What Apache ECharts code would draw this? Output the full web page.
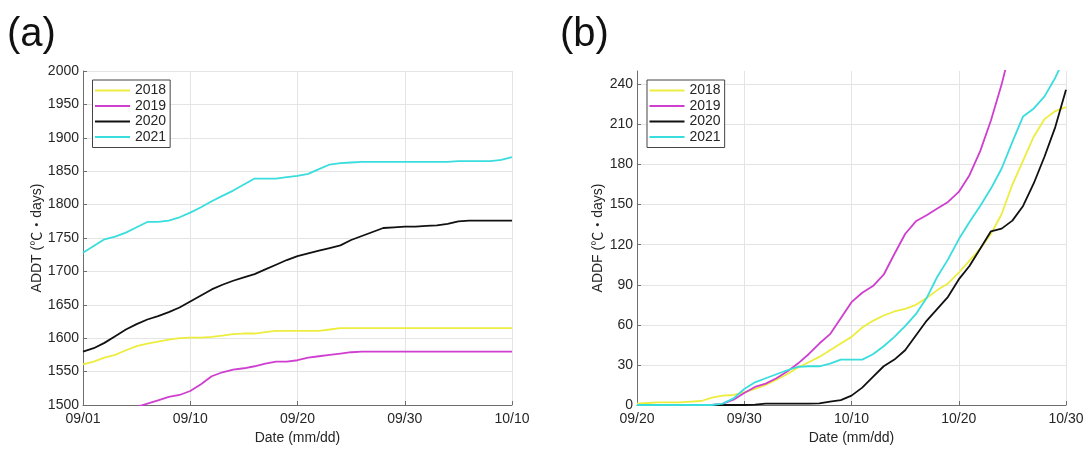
<!DOCTYPE html>
<html>
<head>
<meta charset="utf-8">
<script src="https://cdn.jsdelivr.net/npm/echarts@6/dist/echarts.min.js"></script>
<style>
  html, body { margin: 0; padding: 0; background: #fff; }
  #chart { width: 1089px; height: 450px; }
</style>
</head>
<body>
<div id="chart"></div>
<script>
// Season names shown in both legends
const years = ['2018', '2019', '2020', '2021'];
const colors = ['#eded3f', '#cf3fcf', '#111111', '#3adddd'];

// Panel (a): accumulated daily temperature, one value per day from 09/01
const ticksA = ['09/01', '09/10', '09/20', '09/30', '10/10'];
const addt2018 = [1561, 1565, 1571, 1575, 1582, 1588, 1592, 1595, 1598, 1600, 1601, 1601, 1602, 1604, 1606, 1607, 1607, 1609, 1611, 1611, 1611, 1611, 1611, 1613, 1615, 1615, 1615, 1615, 1615, 1615, 1615, 1615, 1615, 1615, 1615, 1615, 1615, 1615, 1615, 1615, 1615];
const addt2019 = [1478, 1482, 1485, 1489, 1493, 1497, 1502, 1507, 1512, 1515, 1521, 1531, 1543, 1549, 1553, 1555, 1558, 1562, 1565, 1565, 1567, 1571, 1573, 1575, 1577, 1579, 1580, 1580, 1580, 1580, 1580, 1580, 1580, 1580, 1580, 1580, 1580, 1580, 1580, 1580, 1580];
const addt2020 = [1580, 1585, 1593, 1603, 1613, 1621, 1628, 1633, 1639, 1646, 1655, 1664, 1673, 1680, 1686, 1691, 1696, 1703, 1710, 1717, 1723, 1727, 1731, 1735, 1739, 1747, 1753, 1759, 1765, 1766, 1767, 1767, 1768, 1769, 1771, 1775, 1776, 1776, 1776, 1776, 1776];
const addt2021 = [1728, 1738, 1748, 1752, 1758, 1766, 1774, 1774, 1776, 1781, 1788, 1796, 1805, 1813, 1821, 1830, 1839, 1839, 1839, 1841, 1843, 1846, 1853, 1860, 1862, 1863, 1864, 1864, 1864, 1864, 1864, 1864, 1864, 1864, 1864, 1865, 1865, 1865, 1865, 1867, 1871];

// Panel (b): accumulated daily frost degree, one value per day from 09/20
const ticksB = ['09/20', '09/30', '10/10', '10/20', '10/30'];
const addf2018 = [1, 1.5, 2, 2, 2, 2.5, 3, 5.5, 7, 7.5, 9.5, 12, 15, 19, 23, 28, 32, 36, 41, 46, 51, 58, 63, 67, 70, 72, 75, 80, 86, 91, 99, 108, 117, 128, 143, 165, 183, 201, 214, 220, 223];
const addf2019 = [0, 0, 0, 0, 0, 0, 0, 0, 1, 4, 9, 13.5, 16, 20, 25, 31, 38, 46, 53, 65, 77, 84, 89, 97.5, 113, 128, 137.5, 142, 147, 152, 159.5, 172, 190, 213, 240, 272];
const addf2020 = [0, 0, 0, 0, 0, 0, 0, 0, 0, 0, 0, 0.3, 1, 1, 1, 1, 1, 1.2, 2.5, 3.6, 7, 13, 21, 29, 34, 41, 52, 63, 72, 81, 94, 104, 117, 130, 132, 138, 149, 166, 186, 208, 236];
const addf2021 = [0, 0, 0, 0, 0, 0, 0, 0, 1, 5, 12, 17, 20, 23, 26, 28.5, 29, 29, 31, 34, 34, 34, 38, 44, 51, 59, 68, 80, 96, 109, 124, 137, 149, 162, 177, 197, 216, 222, 231, 245, 262];

const yTicksB = [0, 30, 60, 90, 120, 150, 180, 210, 240];

const FONT = '"Liberation Sans", Arial, "Noto Sans CJK JP", sans-serif';
const TEXT = '#262626';
const AXIS = '#6e6e6e';
const GRIDLINE = '#e4e4e4';

function pairs(arr) {
  return arr.map((v, i) => [i, v]);
}

function lineSeries(name, arr, idx, color) {
  return {
    type: 'line',
    name: name,
    xAxisIndex: idx,
    yAxisIndex: idx,
    data: pairs(arr),
    symbol: 'none',
    showSymbol: false,
    clip: true,
    color: color,
    lineStyle: { width: 1.8, color: color },
    emphasis: { disabled: true },
    z: 3
  };
}

function xAxis(idx, labels) {
  return {
    type: 'value',
    gridIndex: idx,
    min: 0,
    max: 40,
    interval: 10,
    name: 'Date (mm/dd)',
    nameLocation: 'middle',
    nameGap: 26,
    nameTextStyle: { fontFamily: FONT, fontSize: 14, color: TEXT },
    axisLine: { show: true, lineStyle: { color: AXIS, width: 1 } },
    axisTick: { show: true, inside: true, length: 4, lineStyle: { color: AXIS } },
    axisLabel: {
      fontFamily: FONT, fontSize: 14, color: TEXT, margin: 7,
      formatter: v => labels[Math.round(v / 10)]
    },
    splitLine: { show: true, lineStyle: { color: GRIDLINE, width: 1 } }
  };
}

function yAxis(idx, name, extra) {
  return Object.assign({
    type: 'value',
    gridIndex: idx,
    name: name,
    nameLocation: 'middle',
    nameGap: 38,
    nameRotate: 90,
    nameTextStyle: { fontFamily: FONT, fontSize: 14, color: TEXT },
    axisLine: { show: true, lineStyle: { color: AXIS, width: 1 } },
    axisTick: { show: true, inside: true, length: 4, lineStyle: { color: AXIS } },
    axisLabel: { fontFamily: FONT, fontSize: 14, color: TEXT, margin: 4, formatter: v => String(v) },
    splitLine: { show: true, lineStyle: { color: GRIDLINE, width: 1 } }
  }, extra);
}

function legend(left) {
  return {
    orient: 'vertical',
    left: left,
    top: 80,
    data: years,
    icon: 'rect',
    itemWidth: 35,
    itemHeight: 2,
    itemGap: 1.5,
    padding: [3.5, 4, 3.5, 2.5],
    borderColor: '#444',
    borderWidth: 1,
    backgroundColor: '#fff',
    selectedMode: false,
    textStyle: { fontFamily: FONT, fontSize: 14, color: TEXT, lineHeight: 14 }
  };
}

const chart = echarts.init(document.getElementById('chart'), null, { renderer: 'canvas' });

const series = [];
[addt2018, addt2019, addt2020, addt2021].forEach((arr, i) => series.push(lineSeries(years[i], arr, 0, colors[i])));
[addf2018, addf2019, addf2020, addf2021].forEach((arr, i) => series.push(lineSeries(years[i], arr, 1, colors[i])));

chart.setOption({
  animation: false,
  backgroundColor: '#fff',
  grid: [
    { left: 83, top: 71, width: 429, height: 338 },
    { left: 637, top: 71, width: 429, height: 338 }
  ],
  xAxis: [xAxis(0, ticksA), xAxis(1, ticksB)],
  yAxis: [
    yAxis(0, 'ADDT (℃・days)', { min: 1500, max: 2000, interval: 50 }),
    yAxis(1, 'ADDF (℃・days)', {
      min: 0, max: 250, interval: 30, nameGap: 32,
      axisTick: { show: true, inside: true, length: 4, lineStyle: { color: AXIS }, customValues: yTicksB },
      axisLabel: { fontFamily: FONT, fontSize: 14, color: TEXT, margin: 4, customValues: yTicksB, formatter: v => String(v) }
    })
  ],
  legend: [legend(92.5), legend(647)],
  graphic: [
    { type: 'text', left: 7, top: 15, style: { text: '(a)', font: '40px "Liberation Sans", Arial, sans-serif', fill: '#111' } },
    { type: 'text', left: 560, top: 15, style: { text: '(b)', font: '40px "Liberation Sans", Arial, sans-serif', fill: '#111' } }
  ],
  series: series
});
</script>
</body>
</html>
